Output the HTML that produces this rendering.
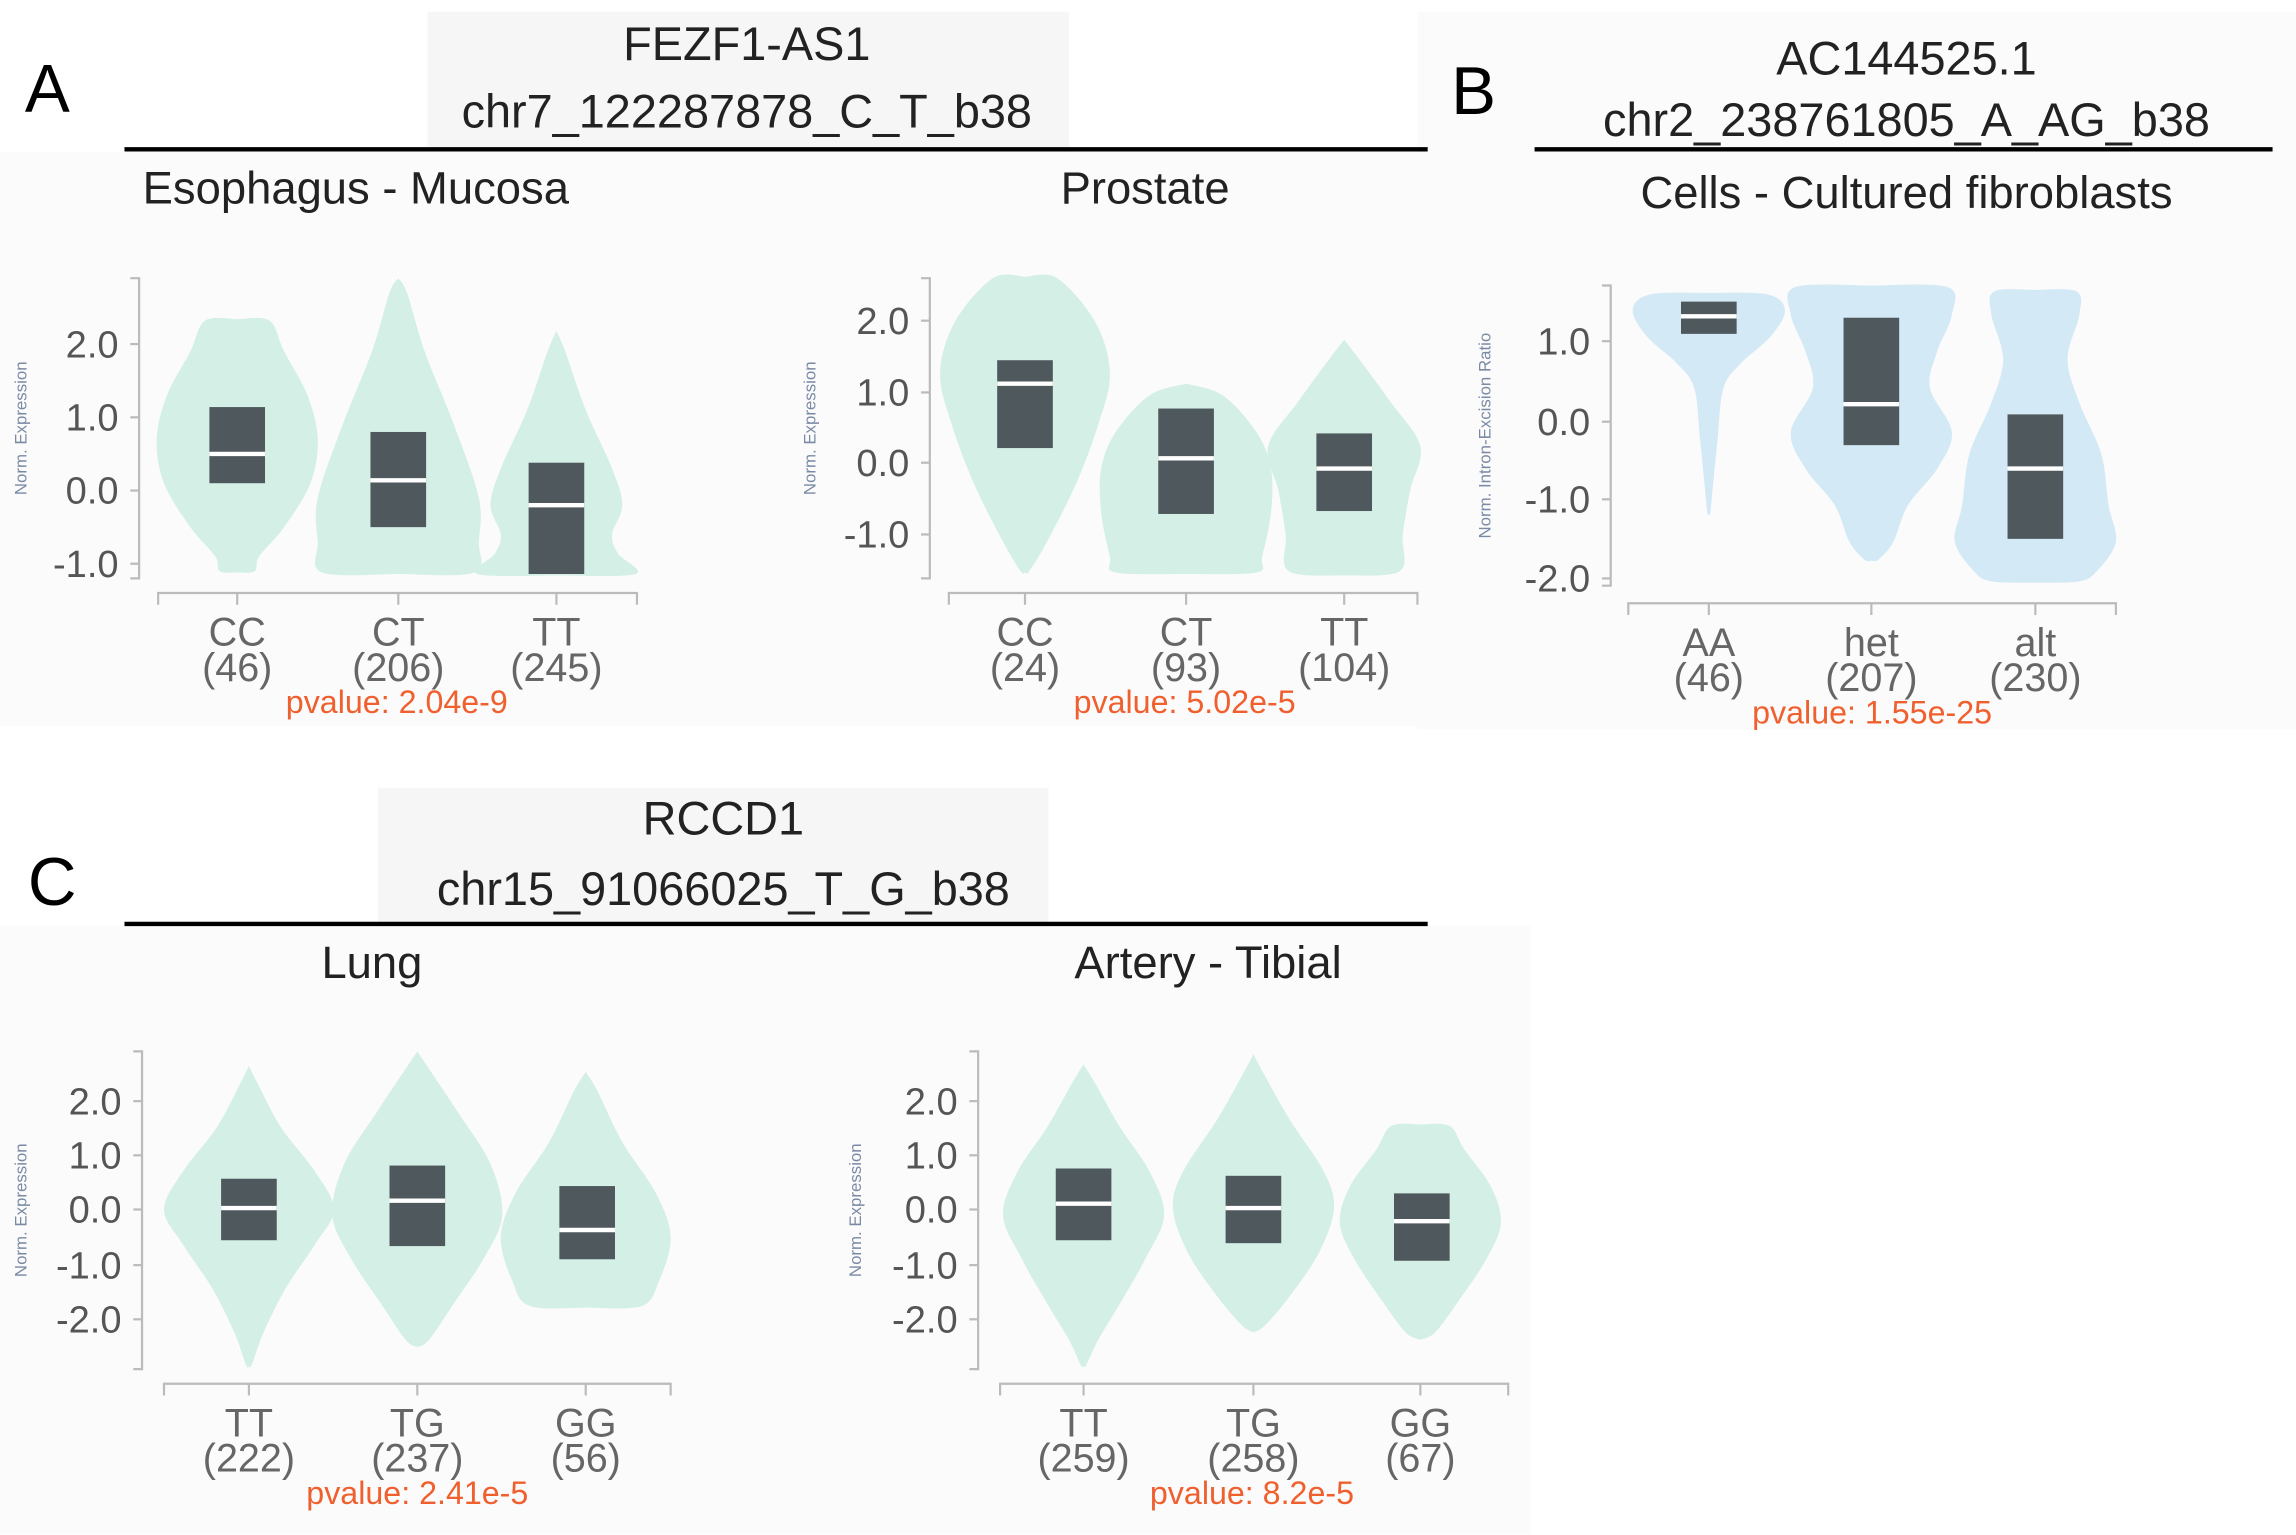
<!DOCTYPE html>
<html><head><meta charset="utf-8"><style>
html,body{margin:0;padding:0;background:#fff;}
svg{display:block;}
text{font-family:"Liberation Sans",sans-serif;}
</style></head><body>
<svg id="s" width="2296" height="1535" viewBox="0 0 1568 1048.3" preserveAspectRatio="none" xmlns="http://www.w3.org/2000/svg">
<rect width="1568" height="1049" fill="#fff"/>
<rect x="0" y="104" width="975" height="392" fill="#fbfbfb"/>
<rect x="292" y="8" width="438" height="94" fill="#f6f6f6"/>
<rect x="968" y="8" width="600" height="490" fill="#fbfbfb"/>
<rect x="0" y="632" width="1045" height="416" fill="#fbfbfb"/>
<rect x="258" y="538" width="458" height="94" fill="#f6f6f6"/>
<g id="g"></g>
<g fill="#000" font-size="46"><text x="17" y="76">A</text><text x="991" y="78">B</text><text x="19" y="618">C</text></g>
<g fill="#222" text-anchor="middle">
<text x="510" y="41" font-size="32">FEZF1-AS1</text><text x="510" y="87" font-size="32">chr7_122287878_C_T_b38</text>
<text x="243" y="139" font-size="31">Esophagus - Mucosa</text><text x="782" y="139" font-size="31">Prostate</text>
<text x="1302" y="51" font-size="32">AC144525.1</text><text x="1302" y="93" font-size="32">chr2_238761805_A_AG_b38</text>
<text x="1302" y="142" font-size="31">Cells - Cultured fibroblasts</text>
<text x="494" y="570" font-size="32">RCCD1</text><text x="494" y="618" font-size="32">chr15_91066025_T_G_b38</text>
<text x="254" y="668" font-size="31">Lung</text><text x="825" y="668" font-size="31">Artery - Tibial</text>
</g>
<g stroke="#000" stroke-width="3"><line x1="85" y1="102" x2="975" y2="102"/><line x1="1048" y1="102" x2="1552" y2="102"/><line x1="85" y1="631" x2="975" y2="631"/></g>
</svg>
<script>
const g=document.getElementById('g');let h='';
function cr(pts){let d='M'+pts[0][0]+','+pts[0][1];for(let i=0;i<pts.length-1;i++){const p0=pts[Math.max(0,i-1)],p1=pts[i],p2=pts[i+1],p3=pts[Math.min(pts.length-1,i+2)];d+=' C'+(p1[0]+(p2[0]-p0[0])/6)+','+(p1[1]+(p2[1]-p0[1])/6)+' '+(p2[0]-(p3[0]-p1[0])/6)+','+(p2[1]-(p3[1]-p1[1])/6)+' '+p2[0]+','+p2[1];}return d;}
function violin(cx,prof,col){const r=prof.map(p=>[cx+p[1],p[0]]);const l=prof.slice().reverse().map(p=>[cx-p[1],p[0]]);h+='<path d="'+cr(r)+' L'+l[0][0]+','+l[0][1]+cr(l).slice(cr(l).indexOf(' '))+' Z" fill="'+col+'"/>';}
function box(cx,t,b,m){h+='<rect x="'+(cx-19)+'" y="'+t+'" width="38" height="'+(b-t)+'" fill="#4e585d"/><line x1="'+(cx-19)+'" x2="'+(cx+19)+'" y1="'+m+'" y2="'+m+'" stroke="#fff" stroke-width="3"/>';}
function axes(ax,yt,yb,ticks,x1,x2,xy,cats,ns,pv,ylab,labx){
 h+='<path d="M'+(ax-6)+','+yt+' H'+ax+' V'+yb+' H'+(ax-6)+'" fill="none" stroke="#bbb" stroke-width="1.5"/>';
 ticks.forEach(t=>{h+='<line x1="'+(ax-6)+'" x2="'+ax+'" y1="'+t[1]+'" y2="'+t[1]+'" stroke="#bbb" stroke-width="1.5"/><text x="'+(ax-14)+'" y="'+(t[1]+9)+'" font-size="26" fill="#555" text-anchor="end">'+t[0]+'</text>';});
 h+='<path d="M'+x1+','+(xy+8)+' V'+xy+' H'+x2+' V'+(xy+8)+'" fill="none" stroke="#bbb" stroke-width="1.5"/>';
 cats.forEach((c,i)=>{h+='<line x1="'+c[0]+'" x2="'+c[0]+'" y1="'+xy+'" y2="'+(xy+8)+'" stroke="#bbb" stroke-width="1.5"/><text x="'+c[0]+'" y="'+(xy+36)+'" font-size="27" fill="#666" text-anchor="middle">'+c[1]+'</text><text x="'+c[0]+'" y="'+(xy+60)+'" font-size="27" fill="#666" text-anchor="middle">('+ns[i]+')</text>';});
 h+='<text x="'+((cats[0][0]+cats[2][0])/2)+'" y="'+(xy+82)+'" font-size="22" fill="#f0602e" text-anchor="middle">pvalue: '+pv+'</text>';
 const cy=(yt+yb)/2;h+='<text transform="translate('+labx+','+cy+') rotate(-90)" font-size="11.5" fill="#7a8aa5" text-anchor="middle">'+ylab+'</text>';
}
const G='#d4efe6',B='#d3e9f5';
violin(162,[[218,0],[219,22],[240,32],[270,48],[300,55],[330,50],[360,32],[380,15],[390,12],[391,0]],G);
violin(272,[[190,0],[200,6],[240,18],[290,38],[340,55],[370,55],[391,52],[392,0]],G);
violin(380,[[226,0],[240,6],[280,20],[320,38],[345,45],[365,38],[378,42],[392,54],[393,0]],G);
box(162,278,330,310);box(272,295,360,328);box(380,316,392,345);
axes(95,190,395,[['2.0',235],['1.0',285],['0.0',335],['-1.0',385]],108,435,405,[[162,'CC'],[272,'CT'],[380,'TT']],[46,206,245],'2.04e-9','Norm. Expression',18);
violin(700,[[189,0],[190,22],[220,48],[255,58],[290,50],[330,35],[370,15],[390,3],[391,0]],G);
violin(810,[[262,0],[270,25],[295,48],[320,58],[350,58],[380,52],[391,48],[392,0]],G);
violin(918,[[232,0],[245,10],[275,32],[305,52],[335,45],[365,40],[390,38],[393,0]],G);
box(700,246,306,262);box(810,279,351,313);box(918,296,349,320);
axes(635,190,395,[['2.0',219],['1.0',268],['0.0',316],['-1.0',365]],648,968,405,[[700,'CC'],[810,'CT'],[918,'TT']],[24,93,104],'5.02e-5','Norm. Expression',557);
violin(1167,[[200,0],[201,40],[212,52],[230,42],[248,22],[265,10],[300,6],[330,3],[350,1],[351,0]],B);
violin(1278,[[195,0],[196,52],[215,55],[240,45],[265,40],[295,55],[320,45],[345,25],[370,15],[382,5],[383,0]],B);
violin(1390,[[198,0],[199,28],[215,30],[245,22],[275,30],[310,45],[345,50],[370,55],[390,42],[397,30],[398,0]],B);
box(1167,206,228,216);box(1278,217,304,276);box(1390,283,368,320);
axes(1100,195,400,[['1.0',233],['0.0',288],['-1.0',341],['-2.0',395]],1112,1445,412,[[1167,'AA'],[1278,'het'],[1390,'alt']],[46,207,230],'1.55e-25','Norm. Intron-Excision Ratio',1018);
violin(170,[[728,0],[740,6],[770,22],[800,45],[826,58],[850,45],[880,25],[910,10],[932,2],[933,0]],G);
violin(285,[[718,0],[730,8],[760,28],[795,50],[830,58],[860,45],[890,25],[915,8],[920,0]],G);
violin(400,[[732,0],[745,8],[780,25],[815,48],[845,58],[875,50],[892,38],[893,0]],G);
box(170,805,847,825);box(285,796,851,820);box(401,810,860,840);
axes(97,718,935,[['2.0',752],['1.0',789],['0.0',826],['-1.0',864],['-2.0',901]],112,458,945,[[170,'TT'],[285,'TG'],[400,'GG']],[222,237,56],'2.41e-5','Norm. Expression',18);
violin(740,[[727,0],[740,8],[770,25],[800,45],[830,55],[860,42],[890,25],[915,10],[932,2],[933,0]],G);
violin(856,[[720,0],[735,8],[765,25],[800,48],[825,55],[855,45],[885,25],[905,8],[910,0]],G);
violin(970,[[768,0],[769,20],[785,30],[810,48],[835,55],[860,45],[890,25],[910,10],[915,0]],G);
box(740,798,847,822);box(856,803,849,825);box(971,815,861,834);
axes(668,718,935,[['2.0',752],['1.0',789],['0.0',826],['-1.0',864],['-2.0',901]],683,1030,945,[[740,'TT'],[856,'TG'],[970,'GG']],[259,258,67],'8.2e-5','Norm. Expression',588);
g.innerHTML=h;
</script>
</body></html>
